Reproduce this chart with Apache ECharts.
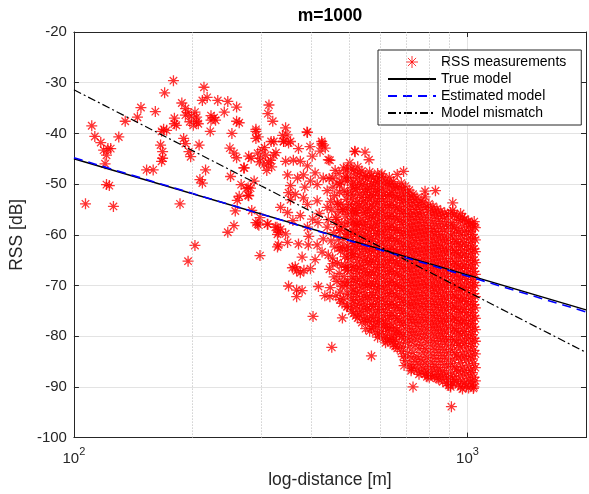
<!DOCTYPE html>
<html lang="en" style="height: 100%">
<head>
<meta charset="UTF-8">
<title>m=1000</title>
<script src="https://cdn.jsdelivr.net/npm/echarts@6/dist/echarts.min.js"></script>
</head>
<body style="height: 100%; margin: 0; overflow: hidden">
<div id="main" style="width: 100vw; height: 100vh"></div>
<script>
// RSS measurements, read off the picture as [distance m, RSS dB]
// scattered points on the left / edges of the cloud
var outerPts = [
  [107,-53.9],[111,-38.5],[113,-40.6],[117,-41.8],[119,-43.3],[121,-44.3],[122,-43],[124,-43],[120,-46],
  [121,-50.1],[123,-50.3],[126,-54.4],[130,-40.7],[135,-37.6],[145,-36.8],[148,-34.9],[161,-35.7],
  [153,-47.2],[159,-47.2],[166,-42.3],[168,-43.6],[168,-44.9],[167,-45.5],[170,-32],[179,-29.6],
  [167,-39.6],[169,-39.2],[172,-39.4],[180,-38.1],[180,-37],[182,-38.4],[188,-34],[192,-35.1],[192,-36.4],
  [195,-35.9],[197,-37.7],[190,-41],[192,-42],[196,-43.6],[198,-44.6],[186,-53.9],[195,-65.2],[203,-62.1],
  [199,-36.6],[203,-35.8],[205,-36.8],[205,-37.7],[207,-38.1],[201,-38.4],[208,-42.3],[209,-49.1],[212,-49.8],
  [216,-47.2],[214,-30.9],[218,-32.9],[212,-33.5],[223,-37.4],[223,-36.5],[227,-36.9],[229,-37.4],[222,-39.6],
  [232,-33.5],[241,-35.8],[246,-33.7],[259,-34.8],[259,-37.6],[263,-37.9],[252,-40],[249,-42.9],[255,-43.9],
  [259,-44.8],[250,-48.5],[266,-50.1],[263,-52.4],[260,-53.2],[257,-55.3],[255,-58.2],[246,-59.5],[270,-46.8],
  [274,-50.9],[281,-50.8],[277,-52.2],[283,-55.2],[290,-39.2],[294,-40.7],[282,-44.9],[297,-64.1],[293,-57.9],
  [297,-56.6],[310,-57.9],[313,-34.4],[311,-36.1],[320,-37.6],[317,-41.6],[328,-58.5],[331,-59.5],[329,-62.4],
  [345,-38.9],[348,-40.3],[341,-41.6],[351,-41.9],[391,-39.7],[351,-70.1],[368,-70.9],[368,-72.2],[380,-71],
  [359,-66.5],[368,-67.1],[376,-67.5],[384,-67],[405,-76.1],[418,-70.2],[434,-72],[452,-82.2],[481,-76.4],
  [466,-69.2],[480,-70.2],[474,-72.8],[480,-73.5],[447,-72.2],[570,-83.9],[910,-93.9],[426,-41.6],[427,-42.3],
  [443,-45.2],[518,-43.6],[549,-43.7],[562,-45.2],[688,-47.5],[606,-48],[780,-51.4],[829,-51.3],[917,-53.7],
  [1040,-57.4],[647,-81],[620,-78.2],[660,-79.6],[690,-85.8],[720,-86.4],[800,-88.2],[727,-90],[905,-89.7],[1035,-90.3]
];
// middle part of the cloud (270 - 520 m)
var midPts = [
  [290,-39.6],[290,-41],[322,-41.6],[339,-40.4],[341,-41.6],[355,-41.6],[392,-39.8],[427,-42],[435,-42.9],
  [278,-44.5],[293,-43.9],[298,-44.9],[307,-44.3],[316,-45.3],[322,-44.3],[304,-46.2],[271,-46.8],[345,-45.5],
  [361,-45.3],[376,-45.5],[392,-46.4],[403,-44.5],[422,-43.5],[447,-45.3],[494,-47.2],[517,-43.5],
  [300,-43.2],[312,-45.8],[305,-42.8],[318,-46.6],[296,-45.6],[326,-43.8],[309,-47.3],[372,-43],[398,-42.6],
  [349,-48.2],[370,-48.8],[383,-48.2],[355,-50.3],[351,-51.7],[399,-49.4],[415,-50.1],[430,-48.8],[455,-48.8],
  [474,-50.1],[494,-48.8],[511,-50.7],[440,-51.3],[277,-50.7],[278,-52.3],[287,-49.4],[410,-47.8],[386,-50.6],
  [355,-53.1],[383,-52.7],[392,-54],[415,-53.3],[440,-54.6],[466,-53.7],[482,-55],[502,-54],[523,-55.2],
  [349,-55.6],[376,-56.2],[335,-54.6],[365,-52],[420,-55.8],[404,-56.9],[360,-57.2],
  [290,-57.6],[295,-58.1],[311,-57.9],[325,-58.5],[329,-59.9],[335,-58.9],[392,-58.5],[417,-57.6],[440,-58.5],
  [466,-57],[474,-59.1],[502,-59.9],[523,-57.9],[395,-60.3],[430,-60.8],[345,-59.8],
  [331,-62],[349,-61.5],[372,-61.8],[394,-62],[415,-62],[427,-63.4],[443,-64],[474,-62.5],[502,-63.8],
  [380,-64.4],[410,-64.9],[365,-66.3],[399,-66.7],[455,-65.7],[494,-66.3]
];
// left edge of the dense part (440 - 495 m), thinner
var edgePts = [
  [445,-48.9],[449,-53.4],[443,-57.0],[450,-61.2],[446,-66.8],[448,-70.4],
  [455,-50.6],[452,-55.1],[457,-59.6],[454,-64.6],
  [461,-47.3],[459,-52.3],[462,-56.6],[460,-62.4],[458,-68.3],[463,-72.0],
  [466,-49.8],[468,-54.0],[465,-58.0],[470,-61.0],[467,-65.5],
  [472,-47.9],[473,-51.6],[471,-55.4],[474,-59.1],[476,-63.2],[472,-67.6],[475,-71.3],
  [478,-49.6],[477,-53.9],[479,-57.7],[481,-62.4],[478,-66.0],[480,-69.3],
  [484,-46.8],[486,-51.3],[483,-55.0],[487,-58.4],[485,-60.9],[488,-64.3],[486,-68.2],[484,-72.6],
  [490,-48.5],[492,-53.0],[489,-56.3],[491,-59.8],[493,-63.0],[490,-66.4],[492,-70.0],[494,-74.2]
];
// dense part of the cloud: [distance, RSS values at that distance]
var denseColumns = [
  [496, [-46.8,-49.4,-52.0,-54.9,-57.5,-59.9,-62.2,-64.6,-66.9,-69.3,-71.6,-74.1]],
  [502, [-45.8,-48.7,-51.5,-54.1,-55.9,-57.8,-60.3,-62.6,-64.9,-67.1,-69.4,-71.8,-74.3]],
  [508, [-47.0,-50.2,-52.9,-55.3,-56.8,-59.0,-61.4,-63.7,-66.1,-68.2,-70.5,-72.8,-75.1]],
  [514, [-47.2,-49.6,-52.2,-54.9,-57.3,-59.4,-61.7,-63.8,-66.3,-68.6,-70.9,-73.0,-75.5]],
  [520, [-48.0,-51.0,-53.8,-55.7,-58.0,-60.0,-62.3,-64.5,-66.9,-69.2,-71.5,-73.9,-76.0]],
  [526, [-46.6,-48.9,-50.8,-53.4,-56.1,-58.2,-60.8,-62.9,-65.4,-67.6,-69.9,-72.2,-74.6,-76.4]],
  [532, [-47.8,-49.8,-52.0,-54.3,-57.5,-59.6,-62.0,-64.3,-66.6,-68.9,-71.2,-73.5,-75.8]],
  [539, [-47.4,-50.1,-52.6,-54.6,-56.9,-59.0,-61.3,-63.6,-66.0,-68.3,-70.4,-72.8,-75.1,-77.3]],
  [545, [-48.6,-51.1,-53.3,-55.7,-58.0,-60.4,-62.7,-65.1,-67.4,-69.7,-72.1,-74.4,-76.7]],
  [551, [-48.3,-49.9,-51.7,-53.9,-55.6,-57.9,-60.0,-62.3,-64.6,-66.8,-69.1,-71.4,-73.7,-76.0,-78.5]],
  [557, [-49.0,-51.0,-52.6,-54.8,-56.6,-58.8,-61.1,-63.3,-65.5,-67.9,-70.0,-72.4,-74.6,-77.0]],
  [564, [-47.6,-50.9,-53.1,-55.2,-57.4,-59.7,-61.8,-64.1,-65.9,-68.0,-70.2,-72.5,-74.8,-77.1,-79.0]],
  [570, [-48.4,-50.0,-52.1,-54.1,-56.3,-58.5,-60.7,-62.9,-65.0,-67.2,-69.3,-71.4,-73.7,-76.0,-78.4]],
  [577, [-48.8,-50.4,-52.3,-54.5,-56.7,-58.6,-60.9,-63.1,-65.3,-67.5,-69.7,-71.9,-74.1,-76.3,-78.1]],
  [584, [-49.5,-51.4,-53.4,-55.6,-57.7,-59.7,-62.0,-64.2,-66.4,-68.5,-70.6,-72.8,-75.0,-77.2,-79.3]],
  [591, [-47.9,-49.7,-51.6,-53.8,-56.0,-58.1,-60.2,-62.5,-64.8,-66.9,-69.2,-71.3,-73.6,-75.8,-78.0,-80.2]],
  [597, [-49.0,-51.0,-52.8,-54.9,-57.1,-59.2,-61.3,-63.6,-65.8,-67.9,-70.2,-72.4,-74.7,-77.0,-79.6]],
  [604, [-48.5,-50.8,-52.9,-55.1,-57.2,-59.4,-61.6,-63.8,-65.9,-68.1,-70.3,-72.6,-74.7,-76.9,-79.1]],
  [611, [-49.8,-52.1,-54.1,-56.3,-58.4,-60.6,-62.8,-65.0,-67.1,-69.3,-71.5,-73.8,-76.0,-78.2,-80.4]],
  [619, [-49.2,-51.3,-53.4,-55.6,-57.8,-59.9,-62.1,-64.3,-66.4,-68.6,-70.8,-73.1,-75.3,-77.5,-79.8,-81.3]],
  [626, [-50.0,-52.4,-54.6,-56.8,-59.0,-61.2,-63.4,-65.6,-67.8,-70.0,-72.2,-74.5,-76.7,-79.0,-81.0]],
  [633, [-48.7,-50.2,-52.1,-54.2,-56.4,-58.5,-60.7,-62.9,-65.0,-67.2,-69.4,-71.6,-73.8,-76.0,-78.4,-80.6]],
  [640, [-49.9,-51.7,-54.0,-56.2,-58.3,-60.5,-62.7,-64.9,-67.1,-69.2,-71.4,-73.6,-75.9,-78.2,-80.3]],
  [648, [-49.5,-51.0,-53.1,-55.3,-57.5,-59.6,-61.8,-64.0,-66.1,-68.3,-70.5,-72.7,-74.9,-77.2,-79.4,-81.7]],
  [655, [-50.5,-52.2,-54.3,-56.4,-58.6,-60.8,-62.9,-65.1,-67.3,-69.5,-71.6,-73.8,-76.0,-78.3,-80.6,-82.0]],
  [663, [-48.1,-50.6,-52.6,-54.7,-56.9,-59.1,-61.2,-63.4,-65.6,-67.7,-69.9,-72.1,-74.3,-76.5,-78.8,-82.4]],
  [671, [-50.7,-52.9,-55.0,-57.1,-59.2,-61.4,-63.6,-65.8,-68.0,-70.2,-72.4,-74.6,-76.9,-79.2,-81.4]],
  [679, [-49.8,-51.8,-53.7,-55.8,-58.0,-60.2,-62.4,-64.6,-66.7,-68.9,-71.0,-73.3,-75.5,-77.8,-80.1,-83.0]],
  [687, [-51.0,-53.2,-55.3,-57.4,-59.6,-61.8,-64.0,-66.2,-68.3,-70.5,-72.7,-75.0,-77.3,-79.7,-82.2,-84.0]],
  [695, [-50.4,-52.4,-54.4,-56.5,-58.7,-60.8,-63.0,-65.2,-67.3,-69.5,-71.7,-73.9,-76.2,-78.6,-81.2,-84.8]],
  [703, [-51.6,-53.7,-55.9,-58.0,-60.1,-62.3,-64.5,-66.7,-68.9,-71.1,-73.3,-75.6,-77.9,-80.4,-83.4]],
  [711, [-51.2,-53.0,-55.0,-57.1,-59.3,-61.5,-63.6,-65.8,-68.0,-70.1,-72.3,-74.5,-76.8,-79.3,-82.1,-85.6]],
  [719, [-52.4,-54.3,-56.4,-58.5,-60.6,-62.8,-65.0,-67.2,-69.4,-71.6,-73.8,-76.1,-78.5,-81.0,-84.3,-86.8]],
  [727, [-52.0,-53.6,-55.7,-57.8,-59.9,-62.0,-64.2,-66.4,-68.6,-70.8,-73.0,-75.2,-77.4,-79.9,-83.2,-86.1]],
  [736, [-53.0,-55.0,-57.0,-59.1,-61.2,-63.4,-65.6,-67.8,-70.0,-72.2,-74.4,-76.7,-79.1,-81.8,-85.0]],
  [744, [-52.7,-54.3,-56.3,-58.4,-60.5,-62.7,-64.9,-67.1,-69.2,-71.4,-73.6,-75.8,-78.1,-80.7,-84.0,-86.7]],
  [753, [-54.0,-55.7,-57.6,-59.7,-61.8,-64.0,-66.2,-68.4,-70.6,-72.8,-75.0,-77.3,-79.7,-82.5,-85.6,-87.5]],
  [762, [-53.3,-55.0,-56.9,-59.0,-61.1,-63.3,-65.5,-67.7,-69.8,-72.0,-74.2,-76.4,-78.8,-81.6,-84.6,-87.1]],
  [771, [-53.6,-56.0,-58.2,-60.3,-62.5,-64.7,-66.9,-69.1,-71.3,-73.5,-75.7,-78.0,-80.4,-83.3,-86.3]],
  [780, [-52.5,-54.6,-57.5,-59.6,-61.7,-63.9,-66.1,-68.3,-70.4,-72.6,-74.8,-77.0,-79.5,-82.4,-85.3,-87.4]],
  [789, [-54.5,-56.6,-58.8,-60.9,-63.1,-65.3,-67.5,-69.7,-71.9,-74.1,-76.3,-78.6,-81.2,-84.2,-86.9,-88.0]],
  [798, [-53.9,-55.6,-58.1,-60.2,-62.3,-64.5,-66.7,-68.9,-71.0,-73.2,-75.4,-77.7,-80.2,-83.1,-86.0,-87.8]],
  [807, [-55.0,-57.2,-59.4,-61.5,-63.7,-65.9,-68.1,-70.3,-72.5,-74.7,-76.9,-79.2,-81.9,-85.0,-87.5]],
  [817, [-54.4,-56.2,-58.7,-60.8,-62.9,-65.1,-67.3,-69.5,-71.6,-73.8,-76.0,-78.3,-80.9,-83.8,-86.5]],
  [826, [-55.5,-57.8,-60.0,-62.1,-64.3,-66.5,-68.7,-70.9,-73.1,-75.3,-77.5,-79.8,-82.6,-85.6,-87.9]],
  [836, [-54.9,-56.8,-59.3,-61.4,-63.5,-65.7,-67.9,-70.1,-72.2,-74.4,-76.6,-78.9,-81.5,-84.4,-87.0,-88.3]],
  [845, [-56.0,-58.3,-60.6,-62.7,-64.9,-67.1,-69.3,-71.5,-73.7,-75.9,-78.1,-80.4,-83.2,-86.2,-88.5]],
  [855, [-55.3,-57.4,-59.9,-62.0,-64.1,-66.3,-68.5,-70.7,-72.8,-75.0,-77.2,-79.5,-82.1,-85.0,-87.6]],
  [865, [-56.4,-58.8,-61.1,-63.3,-65.5,-67.7,-69.9,-72.1,-74.3,-76.5,-78.7,-81.0,-83.8,-86.8,-89.0]],
  [875, [-55.7,-57.9,-60.4,-62.6,-64.7,-66.9,-69.1,-71.3,-73.4,-75.6,-77.8,-80.1,-82.7,-85.6,-88.1]],
  [885, [-56.8,-59.3,-61.6,-63.8,-66.0,-68.2,-70.4,-72.6,-74.8,-77.0,-79.2,-81.6,-84.4,-87.3,-89.3]],
  [896, [-56.0,-58.3,-60.9,-63.1,-65.3,-67.5,-69.7,-71.9,-74.0,-76.2,-78.4,-80.7,-83.3,-86.1,-88.6,-89.7]],
  [906, [-55.6,-58.0,-60.2,-62.4,-64.6,-66.8,-69.0,-71.2,-73.4,-75.6,-77.8,-80.1,-82.6,-85.4,-88.0,-90.0]],
  [917, [-55.2,-57.6,-59.7,-61.7,-63.8,-66.0,-68.2,-70.4,-72.5,-74.7,-76.9,-79.2,-81.8,-84.6,-87.3,-89.2]],
  [927, [-56.1,-58.6,-60.8,-63.0,-65.2,-67.4,-69.6,-71.8,-74.0,-76.2,-78.4,-80.7,-83.2,-86.0,-88.5]],
  [938, [-56.4,-58.8,-61.3,-63.5,-65.7,-67.9,-70.1,-72.3,-74.4,-76.6,-78.8,-81.1,-83.7,-86.5,-88.9]],
  [949, [-57.0,-59.5,-61.9,-64.1,-66.3,-68.5,-70.7,-72.9,-75.1,-77.3,-79.5,-81.8,-84.3,-87.0,-89.6]],
  [960, [-55.8,-57.2,-60.1,-62.3,-64.4,-66.6,-68.8,-71.0,-73.1,-75.3,-77.5,-79.8,-82.3,-85.2,-87.8,-90.0]],
  [971, [-56.5,-58.3,-60.9,-63.1,-65.3,-67.5,-69.7,-71.9,-74.1,-76.3,-78.5,-80.8,-83.3,-86.1,-88.8,-90.4]],
  [983, [-56.9,-59.2,-61.6,-63.8,-66.0,-68.2,-70.4,-72.6,-74.7,-76.9,-79.1,-81.4,-84.0,-86.8,-89.3]],
  [994, [-57.5,-59.9,-62.2,-64.4,-66.6,-68.8,-71.0,-73.2,-75.4,-77.6,-79.8,-82.1,-84.7,-87.5,-89.9]],
  [1006, [-57.3,-58.5,-60.7,-62.9,-65.1,-67.3,-69.5,-71.7,-73.8,-76.0,-78.2,-80.5,-83.0,-85.8,-88.4,-90.2]],
  [1018, [-57.9,-59.3,-61.5,-63.7,-65.9,-68.1,-70.3,-72.5,-74.7,-76.9,-79.1,-81.4,-83.9,-86.7,-89.0]],
  [1029, [-57.8,-59.9,-62.2,-64.4,-66.6,-68.8,-71.0,-73.2,-75.3,-77.5,-79.7,-82.0,-84.5,-87.2,-89.6]],
  [1038, [-58.3,-60.6,-62.8,-65.0,-67.2,-69.4,-71.6,-73.8,-76.0,-78.2,-80.4,-82.8,-85.4,-88.1,-90.0]],
  [1047, [-58.6,-61.0,-63.3,-65.5,-67.8,-70.0,-72.2,-74.4,-76.5,-78.7,-81.0,-83.5,-86.2,-88.8]]
];

// model lines (straight on the log axis), end points
var modelDist = [100, 2000];
var trueRss = [-45.0, -74.8];
var estRss = [-44.8, -75.2];
var mismatchRss = [-31.4, -83.2];

// dotted minor grid on the log axis
var minorTicks = [200, 300, 400, 500, 600, 700, 800, 900];

var measurements = outerPts.concat(midPts, edgePts);
denseColumns.forEach(function (col) {
  col[1].forEach(function (r) { measurements.push([col[0], r]); });
});

function pairs(ys) {
  return modelDist.map(function (d, i) { return [d, ys[i]]; });
}

var axisColor = '#262626';
var star = 'path://M5,0L5,10M0,5L10,5M1.6,1.6L8.4,8.4M8.4,1.6L1.6,8.4';

var myChart = echarts.init(document.getElementById('main'));
myChart.setOption({
  animation: false,
  textStyle: { fontFamily: 'Liberation Sans, Arial, sans-serif' },
  title: {
    text: 'm=1000',
    left: 330,
    textAlign: 'center',
    top: 7,
    padding: 0,
    textStyle: { fontSize: 17.5, fontWeight: 'bold', color: '#000' }
  },
  grid: { left: 71, right: 0, top: 32, bottom: 51 },
  legend: {
    orient: 'vertical',
    left: 378,
    top: 50,
    padding: [4, 15, 4, 9],
    itemGap: 1,
    itemWidth: 48,
    itemHeight: 12,
    backgroundColor: '#fff',
    borderColor: axisColor,
    borderWidth: 1,
    borderRadius: 0,
    itemStyle: { borderWidth: 1 },
    textStyle: { fontSize: 14, color: '#000', lineHeight: 16 },
    data: [
      { name: 'RSS measurements' },
      { name: 'True model', itemStyle: { color: 'transparent', borderWidth: 0 } },
      { name: 'Estimated model', itemStyle: { color: 'transparent', borderWidth: 0 } },
      { name: 'Model mismatch', itemStyle: { color: 'transparent', borderWidth: 0 } }
    ]
  },
  xAxis: [{
    type: 'log',
    logBase: 10,
    min: 100,
    max: 2000,
    name: 'log-distance [m]',
    nameLocation: 'middle',
    nameGap: 32,
    nameTextStyle: { fontSize: 17.5, color: axisColor },
    axisLine: { lineStyle: { color: axisColor, width: 1 } },
    axisTick: { inside: true, length: 5, lineStyle: { color: axisColor } },
    axisLabel: {
      margin: 9,
      color: axisColor,
      formatter: function (v) {
        var e = Math.round(Math.log10(v));
        if (Math.abs(Math.pow(10, e) - v) > 1e-6 * v) return '';
        return '{b|10}{s|' + e + '}';
      },
      rich: {
        b: { fontSize: 15, lineHeight: 24, color: axisColor },
        s: { fontSize: 11, lineHeight: 12, verticalAlign: 'top', color: axisColor }
      }
    },
    splitLine: { show: true, lineStyle: { color: '#e3e3e3', width: 1 } }
  }, {
    type: 'log',
    logBase: 10,
    min: 100,
    max: 2000,
    position: 'top',
    axisLine: { lineStyle: { color: axisColor, width: 1 } },
    axisTick: { inside: true, length: 5, lineStyle: { color: axisColor } },
    axisLabel: { show: false },
    splitLine: { show: false }
  }],
  yAxis: [{
    type: 'value',
    min: -100,
    max: -20,
    interval: 10,
    name: 'RSS [dB]',
    nameLocation: 'middle',
    nameGap: 43,
    nameTextStyle: { fontSize: 17.5, color: axisColor },
    axisLine: { show: true, lineStyle: { color: axisColor, width: 1 } },
    axisTick: { show: true, inside: true, length: 5, lineStyle: { color: axisColor } },
    axisLabel: { margin: 7, fontSize: 15, color: axisColor },
    splitLine: { show: true, lineStyle: { color: '#e3e3e3', width: 1 } }
  }, {
    type: 'value',
    min: -100,
    max: -20,
    interval: 10,
    position: 'right',
    axisLine: { show: true, lineStyle: { color: axisColor, width: 1 } },
    axisTick: { show: true, inside: true, length: 5, lineStyle: { color: axisColor } },
    axisLabel: { show: false },
    splitLine: { show: false }
  }],
  series: [
    {
      name: 'minor grid',
      type: 'line',
      data: [],
      silent: true,
      z: 1,
      markLine: {
        silent: true,
        symbol: ['none', 'none'],
        label: { show: false },
        lineStyle: { color: '#b8b8b8', type: [1, 2], width: 1 },
        data: minorTicks.map(function (v) { return { xAxis: v }; })
      }
    },
    {
      name: 'RSS measurements',
      type: 'scatter',
      data: measurements,
      symbol: star,
      symbolSize: 11,
      symbolKeepAspect: true,
      large: false,
      z: 2,
      itemStyle: { color: '#ff0000', borderColor: '#ff0000', borderWidth: 1.3 }
    },
    {
      name: 'True model',
      type: 'line',
      data: pairs(trueRss),
      symbol: 'none',
      z: 3,
      lineStyle: { color: '#000', width: 1.4, type: 'solid' },
      itemStyle: { color: '#000' }
    },
    {
      name: 'Estimated model',
      type: 'line',
      data: pairs(estRss),
      symbol: 'none',
      z: 3,
      lineStyle: { color: '#0000ff', width: 1.6, type: [9, 6] },
      itemStyle: { color: '#0000ff' }
    },
    {
      name: 'Model mismatch',
      type: 'line',
      data: pairs(mismatchRss),
      symbol: 'none',
      z: 3,
      lineStyle: { color: '#000', width: 1.2, type: [8, 3, 2, 3] },
      itemStyle: { color: '#000' }
    }
  ]
});
</script>
</body>
</html>
